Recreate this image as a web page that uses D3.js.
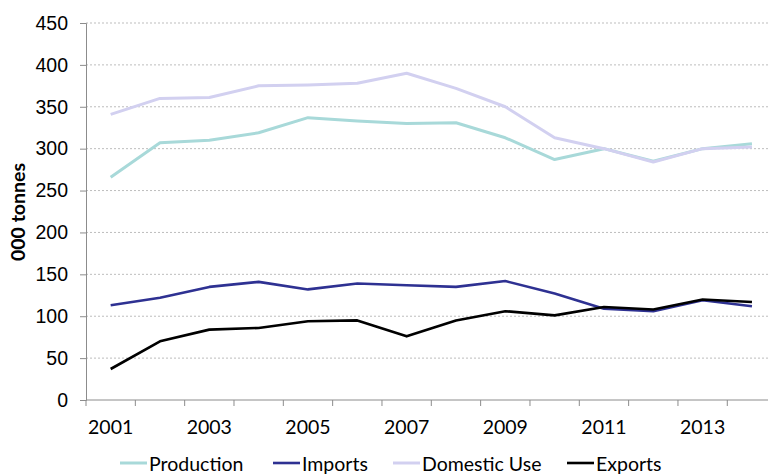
<!DOCTYPE html>
<html>
<head>
<meta charset="utf-8">
<script src="https://cdn.jsdelivr.net/npm/d3@7"></script>
<style>
  html, body { margin: 0; padding: 0; background: #fff; }
  svg { display: block; font-family: Lato, "Open Sans", sans-serif; }
</style>
</head>
<body>
<svg id="chart" width="768" height="474"></svg>
<script>
// Years on the category axis
const years = ["2001","2002","2003","2004","2005","2006","2007","2008","2009","2010","2011","2012","2013","2014"];
// Series in thousand tonnes
const production  = [266, 307, 310, 319, 337, 333, 330, 331, 313, 287, 300, 285, 300, 306];
const imports     = [113, 122, 135, 141, 132, 139, 137, 135, 142, 127, 109, 106, 119, 112];
const domesticUse = [341, 360, 361, 375, 376, 378, 390, 372, 350, 313, 300, 284, 300, 302];
const exportsVals = [37, 70, 84, 86, 94, 95, 76, 95, 106, 101, 111, 108, 120, 117];
const yTicks = [0, 50, 100, 150, 200, 250, 300, 350, 400, 450];
const xLabels = ["2001","2003","2005","2007","2009","2011","2013"];

const series = [
  { name: "Production",   values: production,  color: "#a8d9d9", width: 3 },
  { name: "Imports",      values: imports,     color: "#2e3192", width: 2.6 },
  { name: "Domestic Use", values: domesticUse, color: "#d2d0f0", width: 3 },
  { name: "Exports",      values: exportsVals, color: "#000000", width: 2.6 }
];

const svg = d3.select("#chart");
const plotLeft = 86, plotTop = 23, plotBottom = 400;
const step = 49.33;
const fontSize = 19.5;

const x = d3.scaleBand().domain(years).range([plotLeft, plotLeft + step * years.length]).padding(0);
const y = d3.scaleLinear().domain([0, 450]).range([plotBottom, plotTop]);

// Dashed horizontal gridlines
svg.append("g").selectAll("line")
  .data(yTicks.filter(d => d > 0))
  .join("line")
  .attr("x1", plotLeft).attr("x2", 768)
  .attr("y1", d => y(d)).attr("y2", d => y(d))
  .attr("stroke", "#bdbdbd").attr("stroke-width", 1)
  .attr("stroke-dasharray", "2,2");

// Y axis
const yAxis = svg.append("g")
  .attr("transform", `translate(${plotLeft},0)`)
  .call(d3.axisLeft(y).tickValues(yTicks).tickSize(6).tickPadding(12));
yAxis.select(".domain").attr("stroke", "#8c8c8c");
yAxis.selectAll(".tick line").attr("stroke", "#8c8c8c");
yAxis.selectAll(".tick text").attr("font-size", fontSize).attr("fill", "#000");

// X axis: ticks between categories, labels every other year
const xAxis = svg.append("g")
  .attr("transform", `translate(0,${plotBottom})`);
xAxis.append("line")
  .attr("x1", plotLeft).attr("x2", 768).attr("y1", 0).attr("y2", 0)
  .attr("stroke", "#8c8c8c");
xAxis.selectAll("line.tk")
  .data(years)
  .join("line").attr("class", "tk")
  .attr("x1", d => x(d)).attr("x2", d => x(d))
  .attr("y1", 0).attr("y2", 6)
  .attr("stroke", "#8c8c8c");
xAxis.selectAll("text")
  .data(xLabels)
  .join("text")
  .attr("x", d => x(d) + x.bandwidth() / 2)
  .attr("y", 34)
  .attr("text-anchor", "middle")
  .attr("font-size", fontSize)
  .attr("fill", "#000")
  .text(d => d);

// Y axis title
svg.append("text")
  .attr("transform", "translate(25,212) rotate(-90)")
  .attr("text-anchor", "middle")
  .attr("font-size", fontSize)
  .attr("font-weight", "bold")
  .text("000 tonnes");

// Lines
const line = d3.line()
  .x((d, i) => x(years[i]) + x.bandwidth() / 2)
  .y(d => y(d));

svg.append("g").selectAll("path")
  .data(series)
  .join("path")
  .attr("d", d => line(d.values))
  .attr("fill", "none")
  .attr("stroke", d => d.color)
  .attr("stroke-width", d => d.width)
  .attr("stroke-linejoin", "round");

// Legend
const legendX = [120, 273, 393, 567];
const legend = svg.append("g").selectAll("g")
  .data(series)
  .join("g")
  .attr("transform", (d, i) => `translate(${legendX[i]},463)`);
legend.append("line")
  .attr("x1", 0).attr("x2", 27).attr("y1", 0).attr("y2", 0)
  .attr("stroke", d => d.color).attr("stroke-width", d => d.width);
legend.append("text")
  .attr("x", 29).attr("y", 8)
  .attr("font-size", fontSize)
  .attr("fill", "#000")
  .text(d => d.name);
</script>
</body>
</html>
